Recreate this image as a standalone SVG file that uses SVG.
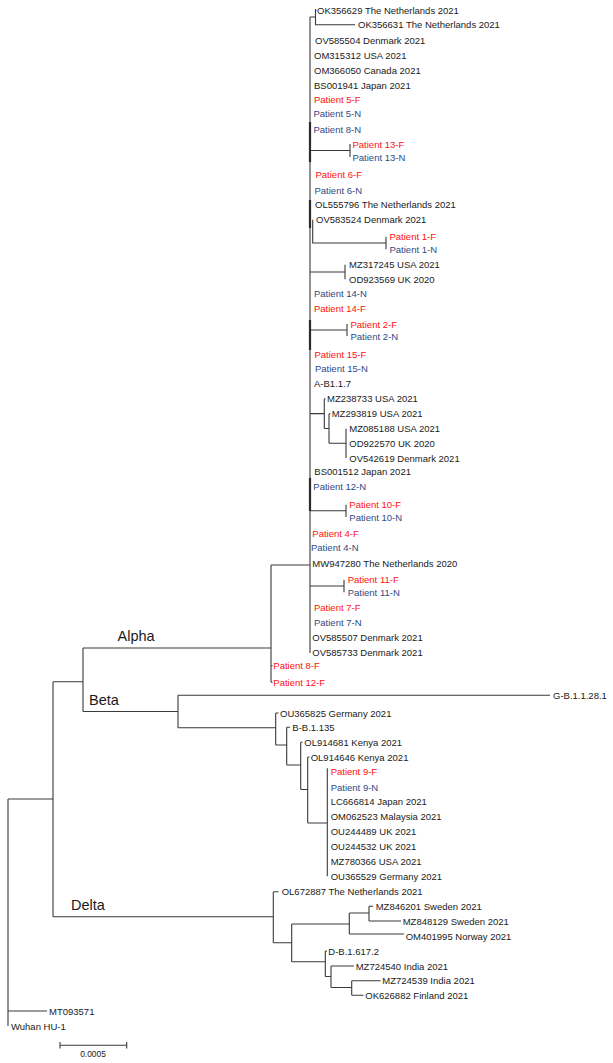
<svg xmlns="http://www.w3.org/2000/svg" width="613" height="1063" viewBox="0 0 613 1063">
<style>
text{font-family:"Liberation Sans",Arial,sans-serif;font-size:9.5px;fill:#1a1a1a}
.r{fill:#ff1010}
.b{fill:#2e4a86}
.clade{font-size:14.5px}
.scale{font-size:8.4px}
.br{fill:none;stroke:#3a3a3a;stroke-width:1.1}
.thick{fill:none;stroke:#2a2a2a;stroke-width:2.2}
</style>
<rect width="613" height="1063" fill="#ffffff"/>
<g id="connectors">
<path class="br" d="M310 17V653M310 17H315.5M315.5 9V24.7H355M315.5 10.7H316.5
M310 150.5H350M350 144V157
M312.7 219.7V243H386M386 236.7V249.3
M310 272H345M345 264.7V279.3
M310 330H347M347 324V336
M310 413.6H324.3M324.3 398.7V428.5M324.3 398.7H325.5M324.3 428.5H329M329 413.7V443.3M329 413.7H330.5M329 443.3H346M346 428.7V458
M310 510.8H346M346 504.7V517
M310 586H344M344 579.7V592.3
M271 565H310M271 565V682.3M271 665.7H272.5M271 682.3H272.5
M83 648H271M83 648V711.5M53 681.7H83
M83 711.5H178M178 695.3V727.7M178 695.3H550M178 727.7H275.7
M275.7 713V745M275.7 713H278.5M275.7 745H286.7M286.7 727.3V765M286.7 727.3H290
M286.7 765H300.7M300.7 742.3V789.5M300.7 742.3H302.5M300.7 789.5H307.7
M307.7 757V823M307.7 757H309.5M307.7 823H327.3M327.3 768.3V876.3
M53 681.7V916.7M8 799V1026M8 799H53M8 1011H47
M53 916.7H273.3M273.3 891.7V942.7M273.3 891.7H278.5M273.3 942.7H291.7
M291.7 924V961.7M291.7 924H349.3M349.3 913V934M349.3 913H369M369 906.3V921M369 906.3H373M369 921H401M349.3 934H404
M291.7 961.7H325.3M325.3 951V976.5M325.3 951H327M325.3 976.5H331M331 966V987.5M331 966H354M331 987.5H351.7
M351.7 980.7V995.3M351.7 980.7H380.5M351.7 995.3H363.5"/>
<path class="thick" d="M310 122V162M310 200V228M310 320V350M310 478V511"/>
</g>
<g id="scale-bar">
<path class="br" d="M60 1045.3H126.7M60 1042V1048.6M126.7 1042V1048.6"/>
<text class="scale" x="93" y="1057" text-anchor="middle">0.0005</text>
</g>
<g id="clade-alpha"><text class="clade" x="117.5" y="641">Alpha</text></g>
<g id="clade-beta"><text class="clade" x="89" y="704.7">Beta</text></g>
<g id="clade-delta"><text class="clade" x="71" y="910">Delta</text></g>
<g id="tip-OK356629"><text x="317" y="14.2">OK356629 The Netherlands 2021</text></g>
<g id="tip-OK356631"><text x="358" y="28.2">OK356631 The Netherlands 2021</text></g>
<g id="tip-OV585504"><text x="315" y="44.2">OV585504 Denmark 2021</text></g>
<g id="tip-OM315312"><text x="314" y="58.8">OM315312 USA 2021</text></g>
<g id="tip-OM366050"><text x="314" y="73.8">OM366050 Canada 2021</text></g>
<g id="tip-BS001941"><text x="314" y="88.5">BS001941 Japan 2021</text></g>
<g id="tip-P5F"><text class="r" x="314" y="102.5">Patient 5-F</text></g>
<g id="tip-P5N"><text class="b" x="313.5" y="117.2">Patient 5-N</text></g>
<g id="tip-P8N"><text class="b" x="313.5" y="133.2">Patient 8-N</text></g>
<g id="tip-P13F"><text class="r" x="352.5" y="147.5">Patient 13-F</text></g>
<g id="tip-P13N"><text class="b" x="352.5" y="160.5">Patient 13-N</text></g>
<g id="tip-P6F"><text class="r" x="315.5" y="177.5">Patient 6-F</text></g>
<g id="tip-P6N"><text class="b" x="314.5" y="193.5">Patient 6-N</text></g>
<g id="tip-OL555796"><text x="315" y="207.8">OL555796 The Netherlands 2021</text></g>
<g id="tip-OV583524"><text x="316" y="223.2">OV583524 Denmark 2021</text></g>
<g id="tip-P1F"><text class="r" x="389.5" y="240.2">Patient 1-F</text></g>
<g id="tip-P1N"><text class="b" x="389.5" y="252.8">Patient 1-N</text></g>
<g id="tip-MZ317245"><text x="349" y="268.2">MZ317245 USA 2021</text></g>
<g id="tip-OD923569"><text x="349" y="282.8">OD923569 UK 2020</text></g>
<g id="tip-P14N"><text class="b" x="314" y="297.2">Patient 14-N</text></g>
<g id="tip-P14F"><text class="r" x="314" y="311.5">Patient 14-F</text></g>
<g id="tip-P2F"><text class="r" x="350.5" y="327.5">Patient 2-F</text></g>
<g id="tip-P2N"><text class="b" x="350.5" y="339.5">Patient 2-N</text></g>
<g id="tip-P15F"><text class="r" x="314.5" y="357.5">Patient 15-F</text></g>
<g id="tip-P15N"><text class="b" x="315" y="371.8">Patient 15-N</text></g>
<g id="tip-AB117"><text x="314" y="387.2">A-B1.1.7</text></g>
<g id="tip-MZ238733"><text x="327" y="402.2">MZ238733 USA 2021</text></g>
<g id="tip-MZ293819"><text x="331.7" y="417.2">MZ293819 USA 2021</text></g>
<g id="tip-MZ085188"><text x="349.3" y="432.2">MZ085188 USA 2021</text></g>
<g id="tip-OD922570"><text x="349.3" y="446.8">OD922570 UK 2020</text></g>
<g id="tip-OV542619"><text x="349.3" y="461.5">OV542619 Denmark 2021</text></g>
<g id="tip-BS001512"><text x="314.3" y="474.8">BS001512 Japan 2021</text></g>
<g id="tip-P12N"><text class="b" x="313.3" y="489.8">Patient 12-N</text></g>
<g id="tip-P10F"><text class="r" x="349.3" y="508.2">Patient 10-F</text></g>
<g id="tip-P10N"><text class="b" x="349.3" y="520.5">Patient 10-N</text></g>
<g id="tip-P4F"><text class="r" x="312.3" y="536.5">Patient 4-F</text></g>
<g id="tip-P4N"><text class="b" x="311" y="551">Patient 4-N</text></g>
<g id="tip-MW947280"><text x="312.3" y="566.8">MW947280 The Netherlands 2020</text></g>
<g id="tip-P11F"><text class="r" x="347.7" y="583.2">Patient 11-F</text></g>
<g id="tip-P11N"><text class="b" x="347.7" y="595.8">Patient 11-N</text></g>
<g id="tip-P7F"><text class="r" x="314" y="611.2">Patient 7-F</text></g>
<g id="tip-P7N"><text class="b" x="314" y="625.8">Patient 7-N</text></g>
<g id="tip-OV585507"><text x="312.3" y="641.2">OV585507 Denmark 2021</text></g>
<g id="tip-OV585733"><text x="312.3" y="656.2">OV585733 Denmark 2021</text></g>
<g id="tip-P8F"><text class="r" x="273.3" y="669.2">Patient 8-F</text></g>
<g id="tip-P12F"><text class="r" x="273.3" y="685.8">Patient 12-F</text></g>
<g id="tip-GB11281"><text x="553" y="698.8">G-B.1.1.28.1</text></g>
<g id="tip-OU365825"><text x="280" y="716.5">OU365825 Germany 2021</text></g>
<g id="tip-BB1135"><text x="292.3" y="730.8">B-B.1.135</text></g>
<g id="tip-OL914681"><text x="304.3" y="745.8">OL914681 Kenya 2021</text></g>
<g id="tip-OL914646"><text x="310.7" y="760.5">OL914646 Kenya 2021</text></g>
<g id="tip-P9F"><text class="r" x="330.7" y="774.8">Patient 9-F</text></g>
<g id="tip-P9N"><text class="b" x="330.7" y="790.5">Patient 9-N</text></g>
<g id="tip-LC666814"><text x="330.7" y="805.2">LC666814 Japan 2021</text></g>
<g id="tip-OM062523"><text x="330.7" y="820.2">OM062523 Malaysia 2021</text></g>
<g id="tip-OU244489"><text x="330.7" y="835.2">OU244489 UK 2021</text></g>
<g id="tip-OU244532"><text x="330.7" y="849.8">OU244532 UK 2021</text></g>
<g id="tip-MZ780366"><text x="330.7" y="865.2">MZ780366 USA 2021</text></g>
<g id="tip-OU365529"><text x="330.7" y="879.8">OU365529 Germany 2021</text></g>
<g id="tip-OL672887"><text x="281.7" y="895.2">OL672887 The Netherlands 2021</text></g>
<g id="tip-MZ846201"><text x="375.7" y="909.8">MZ846201 Sweden 2021</text></g>
<g id="tip-MZ848129"><text x="402.7" y="924.5">MZ848129 Sweden 2021</text></g>
<g id="tip-OM401995"><text x="405.7" y="939.5">OM401995 Norway 2021</text></g>
<g id="tip-DB16172"><text x="328.3" y="954.5">D-B.1.617.2</text></g>
<g id="tip-MZ724540"><text x="355.7" y="969.5">MZ724540 India 2021</text></g>
<g id="tip-MZ724539"><text x="382.3" y="984.2">MZ724539 India 2021</text></g>
<g id="tip-OK626882"><text x="365.3" y="998.8">OK626882 Finland 2021</text></g>
<g id="tip-MT093571"><text x="49" y="1014.5">MT093571</text></g>
<g id="tip-WuhanHU1"><text x="11" y="1029.5">Wuhan HU-1</text></g>
</svg>
